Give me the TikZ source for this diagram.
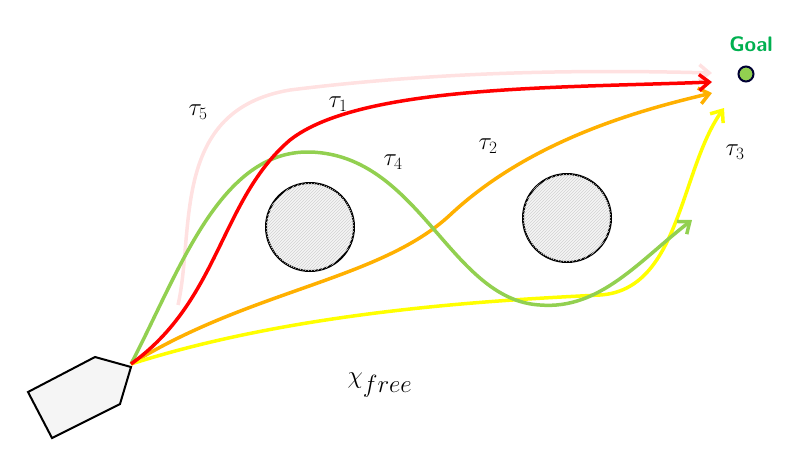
\documentclass[tikz,border=0pt]{standalone}
\usepackage{amsmath}
\usetikzlibrary{arrows.meta,patterns}
\definecolor{trred}{RGB}{255,0,0}
\definecolor{trorange}{RGB}{255,176,0}
\definecolor{tryellow}{RGB}{255,255,0}
\definecolor{trgreen}{RGB}{146,208,80}
\definecolor{trpink}{RGB}{255,225,225}
\definecolor{goalgreen}{RGB}{0,176,80}
\begin{document}
\begin{tikzpicture}[x=1pt,y=-1pt]
        \tikzset{path/.style={line width=3.5pt,-{Straight Barb[length=10pt,width=16pt,line width=3.5pt]}},
                 obst/.style={draw=black,line width=2pt,fill=gray!8,postaction={pattern=north east lines,pattern color=gray!35}},
                 lab/.style={font=\fontsize{26}{28}\selectfont}}
        \useasboundingbox (0,0) rectangle (808,456);
        % obstacles
        \node [obst,circle,minimum size=88pt,inner sep=0pt] (o1) at (310,227) {};
        \node [obst,circle,minimum size=88pt,inner sep=0pt] (o2) at (567,218) {};
        % goal
        \node [circle,draw=black!80!blue,line width=2pt,fill=trgreen,minimum size=15pt,inner sep=0pt] (goal) at (746,74) {};
        \node [text=goalgreen,font=\sffamily\bfseries\fontsize{21}{24}\selectfont] (goallab) at (751,44) {Goal};
        % boat
        \draw [black,line width=2pt,fill=gray!8] (28,392) -- (95,357) -- (131,367) -- (120,404) -- (52,438) -- cycle;
        \coordinate (start) at (131,364);
        % trajectories
        \draw [path,trpink] (178,305) .. controls (195,230) and (170,110) .. (290,90) .. controls (450,70) and (600,70) .. (712,73);
        \draw [path,trorange] (start) .. controls (250,290) and (380,280) .. (450,215) .. controls (530,140) and (640,110) .. (712,93);
        \draw [path,tryellow] (start) .. controls (300,310) and (500,300) .. (600,295) .. controls (680,290) and (680,170) .. (724,108);
        \draw [path,trgreen] (start) .. controls (180,270) and (220,150) .. (310,152) .. controls (420,155) and (450,300) .. (540,305) .. controls (600,310) and (640,260) .. (692,220);
        \draw [path,trred] (start) .. controls (220,300) and (220,200) .. (290,140) .. controls (360,85) and (560,88) .. (712,82);
        % labels
        \node [lab] (t5) at (198,112) {$\tau_5$};
        \node [lab] (t1) at (338,104) {$\tau_1$};
        \node [lab] (t4) at (393,162) {$\tau_4$};
        \node [lab] (t2) at (488,146) {$\tau_2$};
        \node [lab] (t3) at (735,152) {$\tau_3$};
        \node [font=\fontsize{34}{36}\selectfont] (chi) at (380,385) {$\chi_{free}$};
\end{tikzpicture}
\end{document}
